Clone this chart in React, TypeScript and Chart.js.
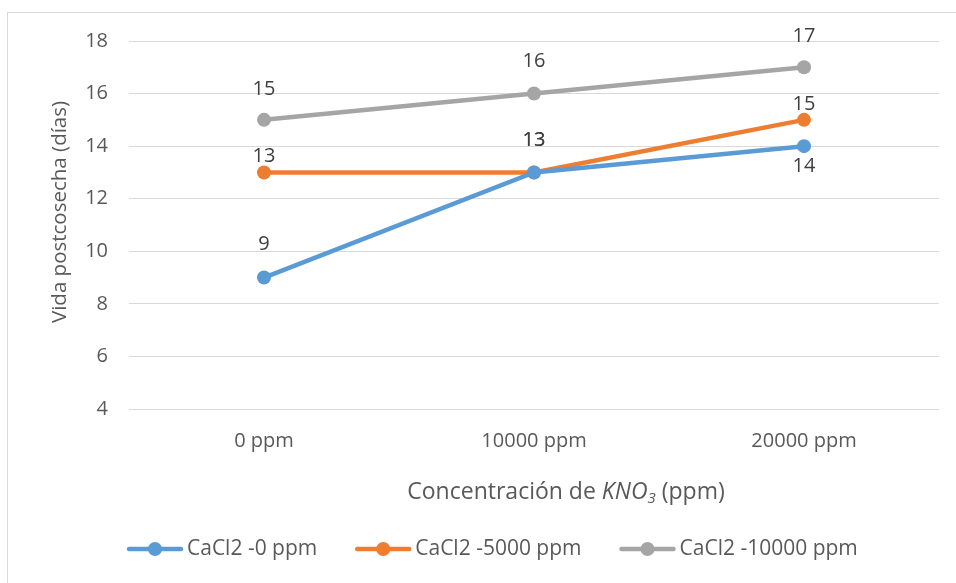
import React, { useEffect, useRef } from "react";
import { Chart, registerables } from "chart.js";

Chart.register(...registerables);

const categories = ["0 ppm", "10000 ppm", "20000 ppm"];
const seriesLabels = ["CaCl2 -0 ppm", "CaCl2 -5000 ppm", "CaCl2 -10000 ppm"];
const cacl2_0 = [9, 13, 14];
const cacl2_5000 = [13, 13, 15];
const cacl2_10000 = [15, 16, 17];
const yMin = 4;
const yMax = 18;
const yStep = 2;
const yTitle = "Vida postcosecha (días)";
const xTitleParts = ["Concentración de ", "KNO", "3", " (ppm)"];

const colors = ["#5B9BD5", "#ED7D31", "#A5A5A5"];
const labelDy = [
  [-33, -32, 20],
  [-16, -32, -16],
  [-31, -32, -31],
];

const FONT = "'Open Sans', 'DejaVu Sans', sans-serif";
const TEXT = "#595959";

const drawPlugin = {
  id: "custom",
  afterDatasetsDraw(chart: any) {
    const ctx = chart.ctx;
    ctx.save();
    ctx.font = `20px ${FONT}`;
    ctx.fillStyle = "#404040";
    ctx.textAlign = "center";
    ctx.textBaseline = "middle";
    chart.data.datasets.forEach((ds: any, i: number) => {
      const meta = chart.getDatasetMeta(i);
      meta.data.forEach((pt: any, j: number) => {
        ctx.fillText(String(ds.data[j]), pt.x, pt.y + labelDy[i][j]);
      });
    });
    ctx.restore();
  },
  afterDraw(chart: any) {
    const ctx = chart.ctx;
    const area = chart.chartArea;
    ctx.save();
    ctx.fillStyle = TEXT;
    ctx.textBaseline = "middle";
    // Y title
    ctx.save();
    ctx.translate(52, 199);
    ctx.rotate(-Math.PI / 2);
    ctx.textAlign = "center";
    ctx.font = `20.5px ${FONT}`;
    ctx.fillText(yTitle, 0, 0);
    ctx.restore();
    // X title
    const fonts = [`23px ${FONT}`, `italic 23px ${FONT}`, `italic 15px ${FONT}`, `23px ${FONT}`];
    const dys = [0, 0, 7, 0];
    const widths = xTitleParts.map((t, k) => {
      ctx.font = fonts[k];
      return ctx.measureText(t).width;
    });
    const total = widths.reduce((a, b) => a + b, 0);
    let x = (area.left + area.right) / 2 + 32 - total / 2;
    const y = 479;
    ctx.textAlign = "left";
    xTitleParts.forEach((t, k) => {
      ctx.font = fonts[k];
      ctx.fillText(t, x, y + dys[k]);
      x += widths[k];
    });
    // Legend
    let lx = 119;
    const ly = 536;
    ctx.font = `21px ${FONT}`;
    chart.data.datasets.forEach((ds: any, i: number) => {
      ctx.strokeStyle = colors[i];
      ctx.lineWidth = 4.5;
      ctx.lineCap = "round";
      ctx.beginPath();
      ctx.moveTo(lx + 2, ly);
      ctx.lineTo(lx + 54, ly);
      ctx.stroke();
      ctx.fillStyle = colors[i];
      ctx.beginPath();
      ctx.arc(lx + 28, ly, 7, 0, Math.PI * 2);
      ctx.fill();
      ctx.fillStyle = TEXT;
      ctx.fillText(ds.label, lx + 60, ly);
      lx += 60 + ctx.measureText(ds.label).width + 38;
    });
    ctx.restore();
  },
};

export default function App() {
  const ref = useRef<HTMLCanvasElement>(null);
  useEffect(() => {
    if (!ref.current) return;
    const series = [cacl2_0, cacl2_5000, cacl2_10000];
    const chart = new Chart(ref.current, {
      type: "line",
      data: {
        labels: categories,
        datasets: series.map((d, i) => ({
          label: seriesLabels[i],
          data: d,
          borderColor: colors[i],
          backgroundColor: colors[i],
          pointBackgroundColor: colors[i],
          pointBorderWidth: 0,
          pointRadius: 7,
          borderWidth: 4.5,
          tension: 0,
        })),
      },
      options: {
        responsive: false,
        animation: false,
        layout: { padding: { top: 28, right: 17, left: 0, bottom: 0 } },
        plugins: { legend: { display: false }, tooltip: { enabled: false }, title: { display: false } },
        scales: {
          x: {
            offset: true,
            grid: { display: false },
            border: { display: false },
            ticks: { color: TEXT, font: { family: FONT, size: 20 }, padding: 12 },
            afterFit: (s: any) => {
              s.height = 174;
              s.paddingLeft = 0;
              s.paddingRight = 0;
            },
          },
          y: {
            min: yMin,
            max: yMax,
            ticks: { stepSize: yStep, color: TEXT, font: { family: FONT, size: 20 }, padding: 21 },
            grid: { color: "#d9d9d9", drawTicks: false, lineWidth: 1 },
            border: { display: false },
            afterFit: (s: any) => {
              s.width = 121;
              s.paddingTop = 0;
              s.paddingBottom = 0;
            },
          },
        },
      },
      plugins: [drawPlugin],
    });
    return () => chart.destroy();
  }, []);
  return (
    <div
      style={{
        position: "fixed",
        left: 7,
        top: 12,
        width: 949,
        height: 571,
        borderLeft: "1px solid #d9d9d9",
        borderTop: "1px solid #d9d9d9",
        background: "#fff",
      }}
    >
      <canvas ref={ref} width={948} height={570} style={{ display: "block" }} />
    </div>
  );
}
